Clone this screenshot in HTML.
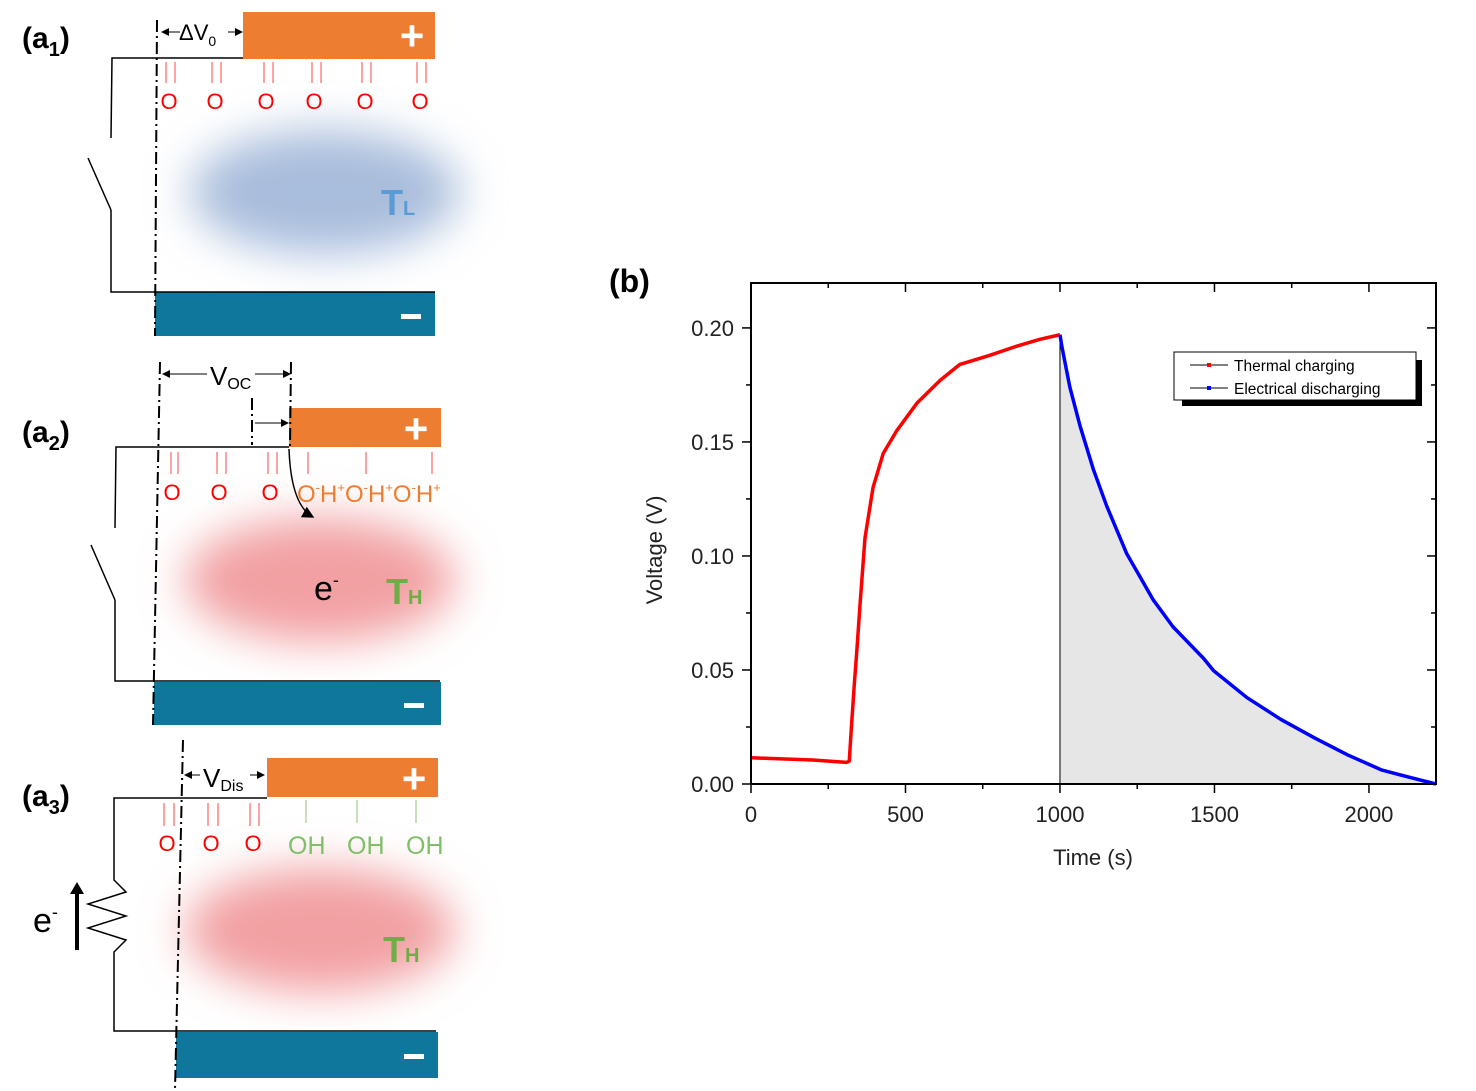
<!DOCTYPE html>
<html><head><meta charset="utf-8"><style>
html,body{margin:0;padding:0;background:#fff;width:1476px;height:1091px;overflow:hidden}
svg{display:block;font-family:"Liberation Sans",sans-serif}
</style></head><body>
<svg id="fig" width="1476" height="1091" viewBox="0 0 1476 1091">
<defs>
<filter id="blur" x="-50%" y="-50%" width="200%" height="200%"><feGaussianBlur stdDeviation="22"/></filter>
<marker id="ah" markerWidth="8" markerHeight="8" refX="7" refY="4" orient="auto"><path d="M0,0 L8,4 L0,8 z" fill="#000"/></marker>
<marker id="at" markerWidth="8" markerHeight="8" refX="1" refY="4" orient="auto"><path d="M8,0 L0,4 L8,8 z" fill="#000"/></marker>
</defs>

<g>
<ellipse cx="325" cy="192" rx="135" ry="62" fill="#a9bddc" filter="url(#blur)"/>
<text x="22" y="48" font-size="30" font-weight="bold">(a<tspan font-size="20" dy="8">1</tspan><tspan dy="-8">)</tspan></text>
<rect x="243" y="12" width="192" height="47" fill="#ed7d31"/>
<text x="412" y="50" font-size="42" fill="#fff" text-anchor="middle" font-weight="bold">+</text>
<rect x="155" y="292" width="280" height="44" fill="#0f769c"/>
<rect x="401" y="314" width="20" height="5" fill="#fff"/>
<polyline points="243,58 112,58 111,138" fill="none" stroke="#000" stroke-width="1.5"/>
<line x1="88" y1="158" x2="111" y2="210" stroke="#000" stroke-width="1.5"/>
<polyline points="111,210 111,292 435,292" fill="none" stroke="#000" stroke-width="1.5"/>
<line x1="157" y1="20" x2="155" y2="336" stroke="#000" stroke-width="2" stroke-dasharray="12,4,2,4"/>
<line x1="162" y1="32" x2="242" y2="32" stroke="#000" stroke-width="1" marker-start="url(#at)" marker-end="url(#ah)"/>
<rect x="180" y="20" width="48" height="24" fill="#fff"/>
<text x="179" y="40" font-size="22">ΔV<tspan font-size="14" dy="6">0</tspan></text>
<g stroke="#f44" stroke-width="1">
<line x1="166" y1="62" x2="166" y2="83"/><line x1="175" y1="62" x2="175" y2="83"/>
<line x1="212" y1="62" x2="212" y2="83"/><line x1="221" y1="62" x2="221" y2="83"/>
<line x1="264" y1="62" x2="264" y2="83"/><line x1="273" y1="62" x2="273" y2="83"/>
<line x1="312" y1="62" x2="312" y2="83"/><line x1="321" y1="62" x2="321" y2="83"/>
<line x1="362" y1="62" x2="362" y2="83"/><line x1="371" y1="62" x2="371" y2="83"/>
<line x1="417" y1="62" x2="417" y2="83"/><line x1="426" y1="62" x2="426" y2="83"/>
</g>
<g fill="#f00" font-size="22" text-anchor="middle">
<text x="169" y="109">O</text><text x="215" y="109">O</text><text x="266" y="109">O</text><text x="314" y="109">O</text><text x="365" y="109">O</text><text x="420" y="109">O</text>
</g>
<text x="381" y="215" font-size="36" font-weight="bold" fill="#5b9bd5">T<tspan font-size="20">L</tspan></text>
</g>

<g>
<ellipse cx="320" cy="580" rx="135" ry="62" fill="#f2a0a3" filter="url(#blur)"/>
<text x="22" y="442" font-size="30" font-weight="bold">(a<tspan font-size="20" dy="8">2</tspan><tspan dy="-8">)</tspan></text>
<rect x="289" y="408" width="152" height="39" fill="#ed7d31"/>
<text x="416" y="443" font-size="42" fill="#fff" text-anchor="middle" font-weight="bold">+</text>
<rect x="154" y="682" width="287" height="43" fill="#0f769c"/>
<rect x="404" y="703" width="20" height="5" fill="#fff"/>
<polyline points="289,447 116,447 115,528" fill="none" stroke="#000" stroke-width="1.5"/>
<line x1="91" y1="545" x2="115" y2="600" stroke="#000" stroke-width="1.5"/>
<polyline points="115,600 115,681 440,681" fill="none" stroke="#000" stroke-width="1.5"/>
<line x1="160" y1="362" x2="153" y2="725" stroke="#000" stroke-width="2" stroke-dasharray="12,4,2,4"/>
<line x1="291" y1="362" x2="290" y2="447" stroke="#000" stroke-width="2" stroke-dasharray="12,4,2,4"/>
<line x1="252" y1="398" x2="252" y2="445" stroke="#000" stroke-width="2" stroke-dasharray="12,4,2,4"/>
<line x1="163" y1="374" x2="290" y2="374" stroke="#000" stroke-width="1" marker-start="url(#at)" marker-end="url(#ah)"/>
<rect x="207" y="360" width="48" height="28" fill="#fff"/>
<text x="210" y="385" font-size="26">V<tspan font-size="16" dy="4">OC</tspan></text>
<line x1="255" y1="423" x2="288" y2="423" stroke="#000" stroke-width="1" marker-end="url(#ah)"/>
<path d="M289,449 Q291,505 313,517" fill="none" stroke="#000" stroke-width="1.5" marker-end="url(#ah)"/>
<g stroke="#f44" stroke-width="1">
<line x1="171" y1="452" x2="171" y2="474"/><line x1="178" y1="452" x2="178" y2="474"/>
<line x1="217" y1="452" x2="217" y2="474"/><line x1="226" y1="452" x2="226" y2="474"/>
<line x1="268" y1="452" x2="268" y2="474"/><line x1="277" y1="452" x2="277" y2="474"/>
<line x1="308" y1="452" x2="308" y2="474"/><line x1="366" y1="452" x2="366" y2="474"/><line x1="432" y1="452" x2="432" y2="474"/>
</g>
<g fill="#f00" font-size="22" text-anchor="middle">
<text x="172" y="500">O</text><text x="219" y="500">O</text><text x="270" y="500">O</text>
</g>
<text x="297" y="502" font-size="24" fill="#ed7d31">O<tspan font-size="13" dy="-10">-</tspan><tspan dy="10">H</tspan><tspan font-size="13" dy="-10">+</tspan><tspan dy="10">O</tspan><tspan font-size="13" dy="-10">-</tspan><tspan dy="10">H</tspan><tspan font-size="13" dy="-10">+</tspan><tspan dy="10">O</tspan><tspan font-size="13" dy="-10">-</tspan><tspan dy="10">H</tspan><tspan font-size="13" dy="-10">+</tspan></text>
<text x="314" y="600" font-size="34">e<tspan font-size="18" dy="-14">-</tspan></text>
<text x="386" y="604" font-size="36" font-weight="bold" fill="#70ad47">T<tspan font-size="20">H</tspan></text>
</g>

<g>
<ellipse cx="320" cy="930" rx="135" ry="62" fill="#f2a0a3" filter="url(#blur)"/>
<text x="22" y="806" font-size="30" font-weight="bold">(a<tspan font-size="20" dy="8">3</tspan><tspan dy="-8">)</tspan></text>
<rect x="267" y="758" width="171" height="39" fill="#ed7d31"/>
<text x="414" y="793" font-size="42" fill="#fff" text-anchor="middle" font-weight="bold">+</text>
<rect x="176" y="1032" width="262" height="46" fill="#0f769c"/>
<rect x="404" y="1054" width="20" height="5" fill="#fff"/>
<polyline points="267,798 114,798 114,880 126,892 88,904 126,916 88,928 126,940 114,952 114,1031 436,1031" fill="none" stroke="#000" stroke-width="1.5"/>
<line x1="183" y1="740" x2="175" y2="1090" stroke="#000" stroke-width="2" stroke-dasharray="12,4,2,4"/>
<line x1="185" y1="775" x2="264" y2="775" stroke="#000" stroke-width="1" marker-start="url(#at)" marker-end="url(#ah)"/>
<rect x="200" y="762" width="50" height="28" fill="#fff"/>
<text x="203" y="787" font-size="26">V<tspan font-size="16" dy="4">Dis</tspan></text>
<line x1="77" y1="950" x2="77" y2="892" stroke="#000" stroke-width="4"/>
<path d="M70,894 L77,882 L84,894 z" fill="#000"/>
<text x="33" y="932" font-size="34">e<tspan font-size="18" dy="-14">-</tspan></text>
<g stroke="#f44" stroke-width="1">
<line x1="164" y1="803" x2="164" y2="826"/><line x1="174" y1="803" x2="174" y2="826"/>
<line x1="208" y1="803" x2="208" y2="826"/><line x1="218" y1="803" x2="218" y2="826"/>
<line x1="250" y1="803" x2="250" y2="826"/><line x1="259" y1="803" x2="259" y2="826"/>
</g>
<g stroke="#8cc27a" stroke-width="1"><line x1="306" y1="800" x2="306" y2="823"/><line x1="357" y1="800" x2="357" y2="823"/><line x1="416" y1="800" x2="416" y2="823"/></g>
<g fill="#f00" font-size="22" text-anchor="middle"><text x="167" y="851">O</text><text x="211" y="851">O</text><text x="253" y="851">O</text></g>
<g fill="#7fbf6a" font-size="25"><text x="288" y="854">OH</text><text x="347" y="854">OH</text><text x="406" y="854">OH</text></g>
<text x="383" y="962" font-size="36" font-weight="bold" fill="#70ad47">T<tspan font-size="20">H</tspan></text>
</g>

<g id="chart">
<text x="609" y="292" font-size="32" font-weight="bold">(b)</text>
<text transform="translate(662,550) rotate(-90)" font-size="22" text-anchor="middle" fill="#222">Voltage (V)</text>
<text x="1093" y="865" font-size="22" text-anchor="middle" fill="#222">Time (s)</text>
<g id="plot"></g>
<g>
<rect x="1182" y="360" width="240" height="46" fill="#000"/>
<rect x="1174" y="352" width="242" height="48" fill="#fff" stroke="#000" stroke-width="1"/>
<g><line x1="1190" y1="365" x2="1228" y2="365" stroke="#000"/><rect x="1207" y="363" width="4" height="4" fill="#f00"/><text x="1234" y="371" font-size="15.5">Thermal charging</text></g>
<g><line x1="1190" y1="388" x2="1228" y2="388" stroke="#000"/><rect x="1207" y="386" width="4" height="4" fill="#00f"/><text x="1234" y="394" font-size="15.5">Electrical discharging</text></g>
</g>
</g>
</svg>
<script>
const chargeTime=[0,100,200,310,318,325,335,342,353,369,395,428,472,537,612,676,773,860,935,1000];
const chargeVolt=[0.0115,0.011,0.0105,0.0095,0.010,0.025,0.045,0.0574,0.079,0.108,0.130,0.145,0.155,0.167,0.177,0.184,0.188,0.192,0.195,0.197];
const dischargeTime=[1000,1006,1032,1065,1108,1151,1216,1302,1366,1464,1497,1605,1715,1824,1932,2042,2130,2217];
const dischargeVolt=[0.197,0.192,0.174,0.157,0.138,0.122,0.101,0.0807,0.0689,0.0552,0.0497,0.0379,0.0283,0.0202,0.0127,0.0061,0.003,0.0];
const xTicks=[0,500,1000,1500,2000];
const yTicks=[0.00,0.05,0.10,0.15,0.20];
const X0=751,X1=1436,Y0=784,Y1=283,TMAX=2217,VMAX=0.2197;
const sx=t=>X0+(t/TMAX)*(X1-X0);
const sy=v=>Y0-(v/VMAX)*(Y0-Y1);
const NS='http://www.w3.org/2000/svg';
const plot=document.getElementById('plot');
function mk(tag,attrs,parent){const e=document.createElementNS(NS,tag);for(const k in attrs)e.setAttribute(k,attrs[k]);(parent||plot).appendChild(e);return e;}
let d='M'+sx(dischargeTime[0])+','+Y0;
dischargeTime.forEach((t,i)=>{d+=' L'+sx(t)+','+sy(dischargeVolt[i]);});
d+=' L'+sx(dischargeTime[dischargeTime.length-1])+','+Y0+' Z';
const fill=mk('path',{d:d,fill:'#e6e6e6'});


const vl=mk('line',{x1:sx(1000),x2:sx(1000),y1:sy(dischargeVolt[0]),y2:Y0,stroke:'#000','stroke-width':1});


const cl=mk('polyline',{points:chargeTime.map((t,i)=>sx(t)+','+sy(chargeVolt[i])).join(' '),fill:'none',stroke:'#f00','stroke-width':3.5,'stroke-linejoin':'round'});


const dl=mk('polyline',{points:dischargeTime.map((t,i)=>sx(t)+','+sy(dischargeVolt[i])).join(' '),fill:'none',stroke:'#00f','stroke-width':3.5,'stroke-linejoin':'round'});


const fr=mk('rect',{x:X0,y:Y1,width:X1-X0,height:Y0-Y1,fill:'none',stroke:'#000','stroke-width':2});


for(let t=0;t<=TMAX;t+=250){const x=sx(t);const maj=t%500===0;const L=maj?9:5;
mk('line',{x1:x,x2:x,y1:Y0,y2:Y0+L,stroke:'#000','stroke-width':1.5});
mk('line',{x1:x,x2:x,y1:Y1,y2:Y1+L,stroke:'#000','stroke-width':1.5});}
for(let v=0;v<=0.2001;v+=0.025){const y=sy(v);const maj=Math.round(v*1000)%50===0;const L=maj?9:5;
mk('line',{x1:X0-L,x2:X0,y1:y,y2:y,stroke:'#000','stroke-width':1.5});
mk('line',{x1:X1-L,x2:X1,y1:y,y2:y,stroke:'#000','stroke-width':1.5});}
xTicks.forEach(t=>{const e=mk('text',{x:sx(t),y:822,'font-size':22,'text-anchor':'middle',fill:'#222'});e.textContent=t;

});
yTicks.forEach(v=>{const e=mk('text',{x:734,y:sy(v)+8,'font-size':22,'text-anchor':'end',fill:'#222'});e.textContent=v.toFixed(2);

});
</script>
</body></html>
